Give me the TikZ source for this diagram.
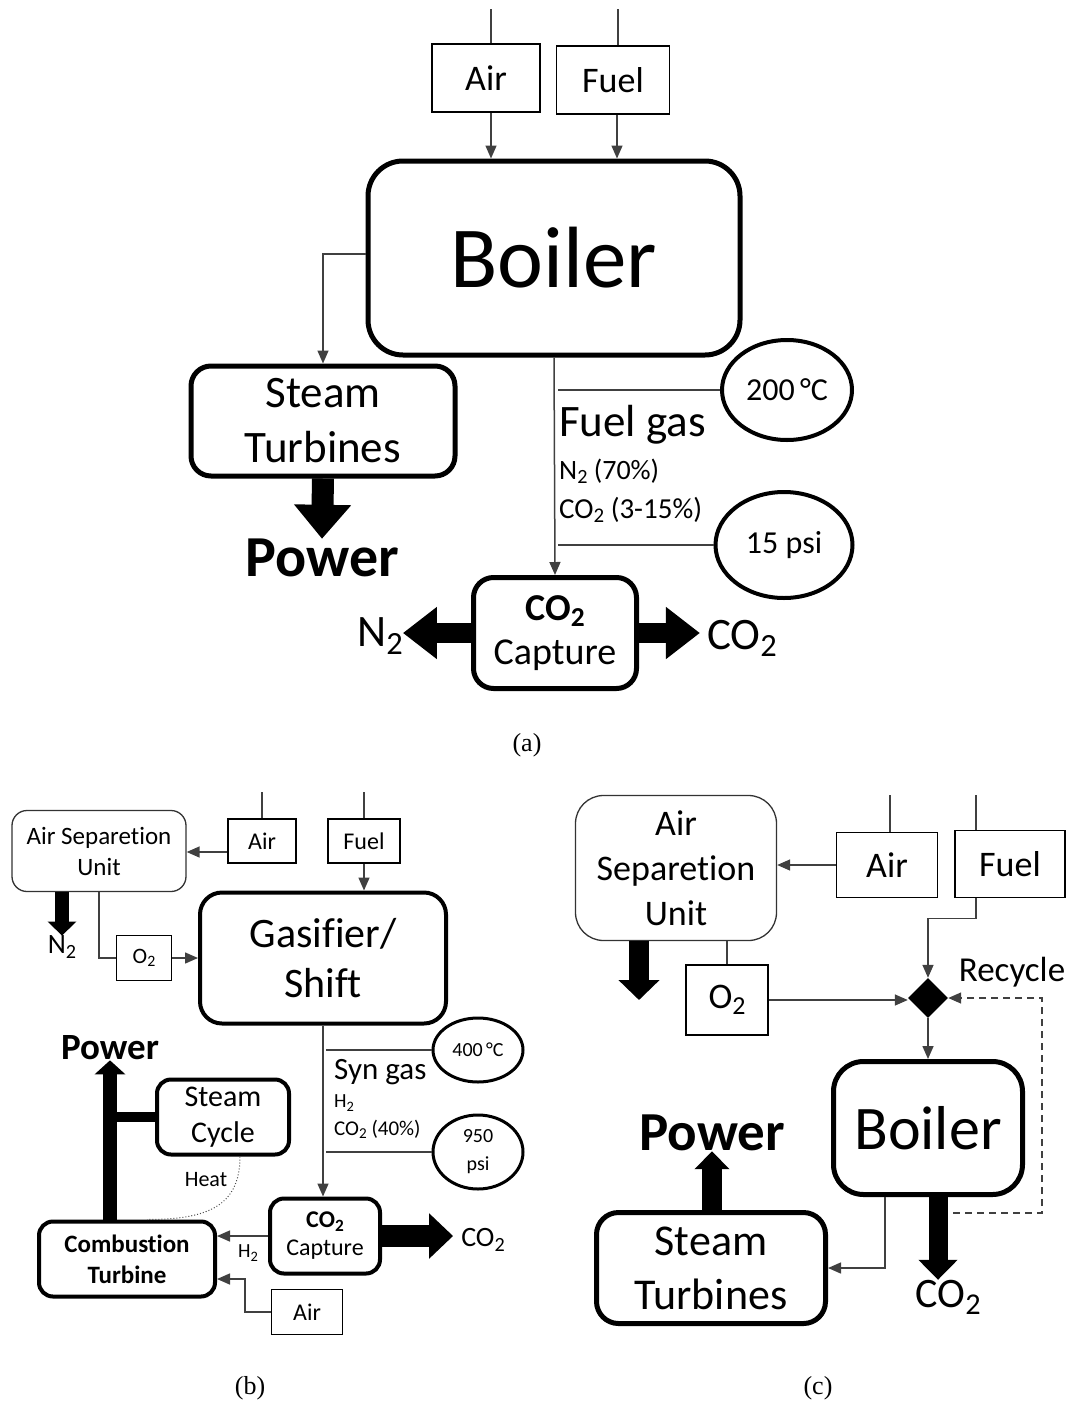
\documentclass[tikz,border=0pt]{standalone}
\usepackage{fontspec}
\usepackage{graphicx}
\setmainfont{Carlito}[Ligatures=NoCommon]
\newfontfamily\capfont{Liberation Serif}
\usetikzlibrary{arrows.meta,shapes.geometric}
\newcommand{\fsz}[2]{\fontsize{#1}{#2}\selectfont}
\newcommand{\subsc}[1]{\raisebox{-0.16em}{\scalebox{0.72}{#1}}}

\tikzset{
  unit/.style={draw, rounded corners=#1, inner sep=0pt, align=center},
  feed/.style={draw, line width=1.5pt, inner sep=0pt, align=center},
  sepunit/.style={draw=black!80, line width=1.3pt, rounded corners=#1, inner sep=0pt, align=center},
  cond/.style={draw, ellipse, inner sep=0pt, align=center},
  lbl/.style={inner sep=0pt, align=center},
  wire/.style={draw=black!75, line width=1.5pt},
  flow/.style={wire, -{Triangle[length=13pt,width=11pt]}},
  bulk/.style n args={3}{line width=#1, -{Triangle[width=#2,length=#3]}},
}

\begin{document}
\begin{tikzpicture}[x=1pt, y=-1pt]
\useasboundingbox (0,0) rectangle (1072,1405);

% ---------------- (a) ----------------
\node[feed, minimum width=108, minimum height=68, font=\fsz{36}{40}] (airA) at (486,78) {Air};
\node[feed, minimum width=113, minimum height=68, font=\fsz{36}{40}] (fuelA) at (613,80) {Fuel};
\node[unit=35, line width=5pt, minimum width=372, minimum height=194, font=\fsz{87}{90}] (boilA) at (554,258) {Boiler};
\node[unit=20, line width=5pt, minimum width=264, minimum height=110, font=\fsz{45}{55}] (stA) at (323,421) {Steam\\Turbines};
\node[lbl, font=\bfseries\fsz{58}{60}] (powA) at (322,558) {Power};
\node[unit=20, line width=5pt, minimum width=163, minimum height=111, font=\fsz{38}{44}] (capA) at (555,633) {\textbf{CO\subsc{2}}\\Capture};
\node[cond, line width=4pt, minimum width=130, minimum height=100, font=\fsz{32}{34}] (t200) at (787,390) {200\,°C};
\node[cond, line width=4pt, minimum width=137, minimum height=106, font=\fsz{32}{34}] (p15) at (784,545) {15 psi};
\node[lbl, anchor=west, font=\fsz{45}{48}] (fgA) at (559,425) {Fuel gas};
\node[lbl, anchor=west, font=\fsz{28}{30}] (n2fA) at (559,471) {N\subsc{2} (70\%)};
\node[lbl, anchor=west, font=\fsz{29}{30}] (co2fA) at (559,510) {CO\subsc{2} (3-15\%)};
\node[lbl, font=\fsz{45}{48}] (n2A) at (380,636) {N\subsc{2}};
\node[lbl, font=\fsz{45}{48}] (co2A) at (742,638) {CO\subsc{2}};

\draw[wire] ([xshift=5pt]airA.north) -- ++(0,-34);
\draw[wire] ([xshift=5pt]fuelA.north) -- ++(0,-36);
\draw[flow] ([xshift=5pt]airA.south) -- ([xshift=5pt]airA.south |- boilA.north);
\draw[flow] ([xshift=4pt]fuelA.south) -- ([xshift=4pt]fuelA.south |- boilA.north);
\draw[flow] ([yshift=4pt]boilA.west) -| (stA.north);
\draw[flow] (boilA.south) -- (capA.north);
\draw[wire] ([xshift=4pt]t200.west -| boilA.south) -- (t200.west);
\draw[wire] ([xshift=4pt]p15.west -| boilA.south) -- (p15.west);
\draw[bulk={22pt}{55pt}{34pt}] (stA.south) -- (powA.north);
\draw[bulk={20pt}{50pt}{34pt}] (capA.west) -- (capA.west -| n2A.east);
\draw[bulk={20pt}{50pt}{34pt}, shorten >=7pt] (capA.east) -- (capA.east -| co2A.west);

\node[lbl, font=\capfont\fsz{26}{28}] (capta) at (527,745) {(a)};

% ---------------- (b) ----------------
\node[sepunit=15, minimum width=174, minimum height=81, font=\fsz{25}{31}] (asuB) at (99,851) {Air Separetion\\Unit};
\node[feed, minimum width=68, minimum height=44, font=\fsz{24}{26}] (airB) at (262,841) {Air};
\node[feed, minimum width=72, minimum height=44, font=\fsz{24}{26}] (fuelB) at (364,841) {Fuel};
\node[unit=22, line width=4pt, minimum width=246, minimum height=131, font=\fsz{42}{50}] (gasB) at (323,958) {Gasifier/\\Shift};
\node[feed, minimum width=55, minimum height=45, font=\fsz{22}{24}] (o2B) at (144,958) {O\subsc{2}};
\node[lbl, font=\fsz{28}{30}] (n2B) at (62,947) {N\subsc{2}};
\node[cond, line width=3pt, minimum width=90, minimum height=64, font=\fsz{20}{22}] (t400) at (478,1050) {400\,°C};
\node[cond, line width=3pt, minimum width=90, minimum height=74, font=\fsz{20}{28}] (p950) at (478,1152) {950\\psi};
\node[lbl, anchor=west, font=\fsz{31}{32}] (sgB) at (334,1072) {Syn gas};
\node[lbl, anchor=west, font=\fsz{20}{22}] (h2fB) at (334,1103) {H\subsc{2}};
\node[lbl, anchor=west, font=\fsz{21}{22}] (co2fB) at (334,1129) {CO\subsc{2} (40\%)};
\node[lbl, font=\bfseries\fsz{37}{40}] (powB) at (110,1048) {Power};
\node[unit=14, line width=4pt, minimum width=132, minimum height=75, font=\fsz{30}{36}] (stcB) at (223,1117) {Steam\\Cycle};
\node[unit=14, line width=4pt, minimum width=176, minimum height=75, font=\bfseries\fsz{25}{31}] (ctB) at (127,1259) {Combustion\\Turbine};
\node[unit=14, line width=4pt, minimum width=110, minimum height=75, font=\fsz{24}{28}] (capB) at (325,1236) {\textbf{CO\subsc{2}}\\Capture};
\node[lbl, font=\fsz{22}{24}] (heatB) at (206,1180) {Heat};
\node[lbl, font=\fsz{20}{22}] (h2B) at (248,1253) {H\subsc{2}};
\node[feed, minimum width=71, minimum height=45, font=\fsz{24}{26}] (airB2) at (307,1312) {Air};
\node[lbl, font=\fsz{28}{30}] (co2B) at (483,1240) {CO\subsc{2}};

\draw[wire] (airB.north) -- ++(0,-26);
\draw[wire] (fuelB.north) -- ++(0,-26);
\draw[flow] ([yshift=-11pt]airB.west) -- ([yshift=-11pt]airB.west -| asuB.east);
\draw[flow] (fuelB.south) -- (fuelB.south |- gasB.north);
\draw[bulk={14pt}{28pt}{14pt}] (asuB.south -| n2B) -- (n2B.north);
\draw[wire] (asuB.south) |- (o2B.west);
\draw[flow] (o2B.east) -- (o2B.east -| gasB.west);
\draw[flow] (gasB.south) -- (gasB.south |- capB.north);
\draw[wire] ([xshift=3pt]t400.west -| gasB.south) -- (t400.west);
\draw[wire] ([xshift=3pt]p950.west -| gasB.south) -- (p950.west);
\draw[bulk={14pt}{30pt}{14pt}] (ctB.north -| powB) -- (powB.south);
\draw[line width=10pt] (stcB.west) -- (stcB.west -| powB);
\draw[black!70, line width=1pt, dotted] ([xshift=17pt]stcB.south) .. controls +(0,50) and +(60,0) .. ([xshift=20pt]ctB.north);
\draw[flow] (capB.west) -- (capB.west -| ctB.east);
\draw[flow] (airB2.west) -- ++(-26,0) |- ([yshift=-20pt]ctB.east);
\draw[bulk={22pt}{44pt}{24pt}, shorten >=8pt] (capB.east) -- (capB.east -| co2B.west);

\node[lbl, font=\capfont\fsz{26}{28}] (captb) at (250,1388) {(b)};

% ---------------- (c) ----------------
\node[sepunit=28, minimum width=201, minimum height=145, font=\fsz{36}{45}] (asuC) at (676,868) {Air\\Separetion\\Unit};
\node[feed, minimum width=101, minimum height=65, font=\fsz{36}{40}] (airC) at (887,865) {Air};
\node[feed, minimum width=110, minimum height=67, font=\fsz{36}{40}] (fuelC) at (1010,864) {Fuel};
\node[feed, minimum width=82, minimum height=70, font=\fsz{36}{40}] (o2C) at (727,1000) {O\subsc{2}};
\node[diamond, fill, inner sep=0pt, minimum width=40, minimum height=40] (mixC) at (928,998) {};
\node[lbl, font=\fsz{35}{38}] (recC) at (1012,972) {Recycle};
\node[unit=30, line width=5pt, minimum width=189, minimum height=133, font=\fsz{62}{64}] (boilC) at (928,1128) {Boiler};
\node[lbl, font=\fsz{42}{44}] (co2C) at (948,1297) {CO\subsc{2}};
\node[unit=22, line width=5pt, minimum width=229, minimum height=111, font=\fsz{44}{54}] (stC) at (711,1268) {Steam\\Turbines};
\node[lbl, font=\bfseries\fsz{55}{58}] (powC) at (712,1133) {Power};
\coordinate (n2C) at (639,1000);
\coordinate (recS) at (953,1213);

\draw[wire] ([xshift=3pt]airC.north) -- ++(0,-37);
\draw[wire] ([xshift=-34pt]fuelC.north) -- ++(0,-35);
\draw[flow] (airC.west) -- (airC.west -| asuC.east);
\draw[bulk={20pt}{40pt}{20pt}] (asuC.south -| n2C) -- (n2C);
\draw[wire] (asuC.south -| o2C) -- (o2C.north);
\draw[flow] (o2C.east) -- (o2C.east -| mixC.west);
\draw[flow] ([xshift=-34pt]fuelC.south) -- ++(0,20) -| (mixC.north);
\draw[black!75, line width=1.5pt, dashed, dash pattern=on 7pt off 5pt, -{Triangle[length=13pt,width=11pt]}] (recS) -- ++(89,0) |- (mixC.east);
\draw[flow] (mixC.south) -- (boilC.north);
\draw[bulk={19pt}{38pt}{20pt}] ([xshift=10pt]boilC.south) -- ([xshift=10pt]boilC.south |- co2C.north);
\draw[flow] ([xshift=-43pt]boilC.south) |- (stC.east);
\draw[bulk={20pt}{34pt}{18pt}] (stC.north -| powC) -- (powC.south);

\node[lbl, font=\capfont\fsz{26}{28}] (captc) at (818,1388) {(c)};
\end{tikzpicture}
\end{document}
